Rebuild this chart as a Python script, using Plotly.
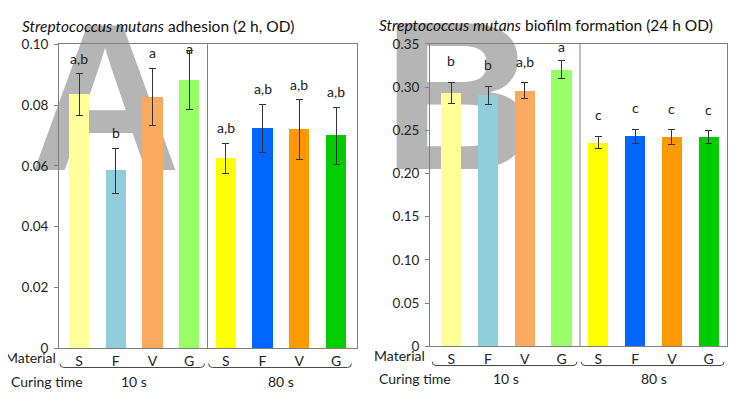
import plotly.graph_objects as go

W, H = 743, 403

materials = ["S", "F", "V", "G", "S", "F", "V", "G"]
curing_groups = ["10 s", "80 s"]
bar_colors = ["#FFFF99", "#92CDDC", "#FAAA5E", "#99FF66",
              "#FFFF00", "#0066FF", "#FF9900", "#00CC00"]

# Panel A: adhesion (2 h, OD)
adh_mean = [0.0835, 0.0584, 0.0827, 0.0882, 0.0624, 0.0724, 0.0719, 0.0699]
adh_err = [0.0068, 0.0074, 0.0095, 0.0098, 0.0050, 0.0079, 0.0098, 0.0093]
adh_sig = ["a,b", "b", "a", "a", "a,b", "a,b", "a,b", "a,b"]
adh_ticks = [0, 0.02, 0.04, 0.06, 0.08, 0.10]
adh_ticktext = ["0", "0.02", "0.04", "0.06", "0.08", "0.10"]

# Panel B: biofilm (24 h OD)
bio_mean = [0.2930, 0.2907, 0.2959, 0.3204, 0.2359, 0.2430, 0.2419, 0.2419]
bio_err = [0.0125, 0.0104, 0.0090, 0.0104, 0.0070, 0.0078, 0.0085, 0.0074]
bio_sig = ["b", "b", "a,b", "a", "c", "c", "c", "c"]
bio_ticks = [0, 0.05, 0.10, 0.15, 0.20, 0.25, 0.30, 0.35]
bio_ticktext = ["0", "0.05", "0.10", "0.15", "0.20", "0.25", "0.30", "0.35"]

FONT = "Lato"
AXC = "#7f7f7f"
xs = list(range(len(materials)))

# page offset of the plot div (default body margin)
OX, OY = 8, 8


def px(x):
    return (x - OX) / W


def py(y):
    return 1 - (y - OY) / H


panels = [
    dict(xa="x", ya="y", xdom=(59, 357), ydom=(354, 37.5), yr=(0, 0.10),
         xr=(-0.545, 7.572), mean=adh_mean, err=adh_err, sig=adh_sig,
         tv=adh_ticks, tt=adh_ticktext, off=0.0052, cap=0.0987,
         title="<i>Streptococcus mutans</i> adhesion (2 h, OD)", tx=158, ty=18,
         letter="A", lx=105, ly=72, lsize=210, matx=57.5, maty=364, brk_y=374, cur_y=389,
         curx=8.5),
    dict(xa="x2", ya="y2", xdom=(430, 727), ydom=(352, 37), yr=(0, 0.35),
         xr=(-0.579, 7.498), mean=bio_mean, err=bio_err, sig=bio_sig,
         tv=bio_ticks, tt=bio_ticktext, off=0.0250, cap=0.3467,
         title="<i>Streptococcus mutans</i> biofilm formation (24 h OD)", tx=546, ty=17,
         letter="B", lx=459, ly=70, lsize=212, matx=427, maty=362, brk_y=372, cur_y=385,
         curx=377),
]

fig = go.Figure()
shapes = []
annotations = []
layout_axes = {}

for i, p in enumerate(panels):
    fig.add_trace(go.Bar(
        x=xs, y=p["mean"], width=0.55, marker=dict(color=bar_colors, line=dict(width=0)),
        error_y=dict(type="data", array=p["err"], visible=True, color="#333333",
                     thickness=1, width=3.5),
        xaxis=p["xa"], yaxis=p["ya"], showlegend=False))
    xk = "xaxis" if i == 0 else "xaxis2"
    yk = "yaxis" if i == 0 else "yaxis2"
    layout_axes[xk] = dict(
        domain=[px(p["xdom"][0]), px(p["xdom"][1])], range=list(p["xr"]),
        anchor=p["ya"], tickvals=xs, ticktext=materials, showline=True, mirror=True,
        linecolor=AXC, linewidth=1, ticks="", showgrid=False, zeroline=False,
        tickfont=dict(family=FONT, size=14, color="#222"))
    layout_axes[yk] = dict(
        domain=[py(p["ydom"][0]), py(p["ydom"][1])], range=list(p["yr"]),
        anchor=p["xa"], tickvals=p["tv"], ticktext=p["tt"], showline=True, mirror=True,
        linecolor=AXC, linewidth=1, ticks="outside", ticklen=4, tickcolor=AXC,
        ticklabelstandoff=3,
        showgrid=False, zeroline=False, tickfont=dict(family=FONT, size=13.5, color="#222"))

    # divider between curing-time groups
    shapes.append(dict(type="line", xref=p["xa"], yref=p["ya"] + " domain",
                       x0=3.5, x1=3.5, y0=0, y1=1, line=dict(color=AXC, width=1)))

    # significance letters
    for k in xs:
        yv = min(p["mean"][k] + p["err"][k] + p["off"], p["cap"])
        annotations.append(dict(x=k, y=yv, xref=p["xa"], yref=p["ya"], text=p["sig"][k],
                                showarrow=False, font=dict(family=FONT, size=14, color="#222")))

    # title
    annotations.append(dict(x=px(p["tx"]), y=py(p["ty"]), xref="paper", yref="paper",
                            text=p["title"], showarrow=False, xanchor="center", yanchor="middle",
                            font=dict(family=FONT, size=15.5, color="#111")))

    # big panel letter watermark (behind bars)
    shapes.append(dict(type="rect", xref="paper", yref="paper", layer="below",
                       x0=px(p["lx"] - 90), x1=px(p["lx"] + 90),
                       y0=py(p["ly"] + 90), y1=py(p["ly"] - 90),
                       line=dict(width=0), fillcolor="rgba(0,0,0,0)",
                       label=dict(text="<b>" + p["letter"] + "</b>",
                                  textposition="middle center",
                                  font=dict(family="Liberation Sans", size=p["lsize"],
                                            color="#b5b5b5"))))

    # Material / Curing time labels
    annotations.append(dict(x=px(p["matx"]), y=py(p["maty"]), xref="paper", yref="paper",
                            text="Material", showarrow=False, xanchor="right", yanchor="middle",
                            font=dict(family=FONT, size=14, color="#222")))
    annotations.append(dict(x=px(p["curx"]), y=py(p["cur_y"]), xref="paper", yref="paper",
                            text="Curing time", showarrow=False, xanchor="left", yanchor="middle",
                            font=dict(family=FONT, size=14, color="#222")))

    x0d, x1d = p["xdom"]
    r0, r1 = p["xr"]

    def cat2px(v, x0d=x0d, x1d=x1d, r0=r0, r1=r1):
        return x0d + (v - r0) / (r1 - r0) * (x1d - x0d)

    for g, (a, b, c) in enumerate([(-0.52, 3.42, 1.5), (3.53, 7.42, 5.5)]):
        xa_, xb_ = cat2px(a), cat2px(b)
        yb = p["brk_y"]
        path = (f"M {px(xa_)},{py(yb - 4)} Q {px(xa_)},{py(yb)} {px(xa_ + 4)},{py(yb)} "
                f"L {px(xb_ - 4)},{py(yb)} Q {px(xb_)},{py(yb)} {px(xb_)},{py(yb - 4)}")
        shapes.append(dict(type="path", xref="paper", yref="paper", path=path,
                           line=dict(color="#444", width=1)))
        annotations.append(dict(x=c, y=py(p["cur_y"]), xref=p["xa"], yref="paper",
                                text=curing_groups[g], showarrow=False, yanchor="middle",
                                font=dict(family=FONT, size=14, color="#222")))

fig.update_layout(
    width=W, height=H, margin=dict(l=0, r=0, t=0, b=0),
    paper_bgcolor="white", plot_bgcolor="rgba(0,0,0,0)",
    shapes=shapes, annotations=annotations, bargap=0, **layout_axes)

fig.write_html("out.html")
